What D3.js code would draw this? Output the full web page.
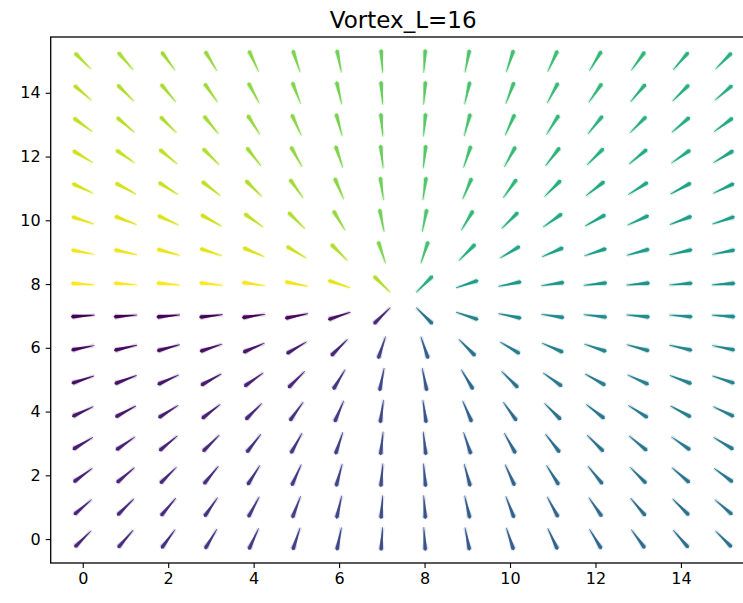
<!DOCTYPE html>
<html>
<head>
<meta charset="utf-8">
<script src="https://cdn.jsdelivr.net/npm/d3@7"></script>
<style>
  html, body { margin: 0; padding: 0; background: #fff; }
  svg { display: block; font-family: "DejaVu Sans", sans-serif; }
</style>
</head>
<body>
<div id="chart"></div>
<script>
// grid positions and vector components (u per column, v per row)
const gridX = [0, 1, 2, 3, 4, 5, 6, 7, 8, 9, 10, 11, 12, 13, 14, 15];
const gridY = [0, 1, 2, 3, 4, 5, 6, 7, 8, 9, 10, 11, 12, 13, 14, 15];
const colU = [-7.5, -6.5, -5.5, -4.5, -3.5, -2.5, -1.5, -0.5, 0.5, 1.5, 2.5, 3.5, 4.5, 5.5, 6.5, 7.5];
const rowV = [-7.5, -6.5, -5.5, -4.5, -3.5, -2.5, -1.5, -0.5, 0.5, 1.5, 2.5, 3.5, 4.5, 5.5, 6.5, 7.5];
const xTicks = [0, 2, 4, 6, 8, 10, 12, 14];
const yTicks = [0, 2, 4, 6, 8, 10, 12, 14];
const titleText = "Vortex_L=16";

const W = 743, H = 603;
const m = { left: 50.7, top: 37, w: 705, h: 526 };

const x = d3.scaleLinear().domain([-0.75, 15.75]).range([m.left, m.left + m.w]);
const y = d3.scaleLinear().domain([-0.75, 15.75]).range([m.top + m.h, m.top]);

// build the arrows
const arrows = [];
gridY.forEach((gy, j) => {
  gridX.forEach((gx, i) => {
    const u = colU[i], v = rowV[j];
    arrows.push({ gx, gy, u, v, ang: Math.atan2(v, u) });
  });
});
const color = d3.scaleSequential(d3.interpolateViridis).domain(d3.extent(arrows, d => d.ang));

const svg = d3.select('#chart').append('svg')
  .attr('width', W).attr('height', H)
  .attr('viewBox', [0, 0, W, H]);

svg.append('defs').append('clipPath').attr('id', 'clip')
  .append('rect').attr('x', m.left).attr('y', m.top).attr('width', m.w).attr('height', m.h);

// arrow glyph along +x, centered on the pivot (middle)
const L = 24;
const glyph = `M${-L/2},-0.3 L${L/2 - 2},-1.8 L${L/2},0 L${L/2 - 2},1.8 L${-L/2},0.3 Z`;
const jitter = [-9, -5, 5, 9]; // faint neighbouring samples

const plot = svg.append('g').attr('clip-path', 'url(#clip)');
const cell = plot.selectAll('g.arrow')
  .data(arrows)
  .join('g')
    .attr('class', 'arrow')
    .attr('transform', d => `translate(${x(d.gx)},${y(d.gy)})`);

cell.selectAll('path.halo')
  .data(d => jitter.map(o => ({ d, o })))
  .join('path')
    .attr('class', 'halo')
    .attr('d', glyph)
    .attr('fill', e => color(e.d.ang))
    .attr('opacity', 0.14)
    .attr('transform', e => `rotate(${-e.d.ang * 180 / Math.PI + e.o})`);

cell.append('path')
  .attr('d', glyph)
  .attr('fill', d => color(d.ang))
  .attr('transform', d => `rotate(${-d.ang * 180 / Math.PI})`);

// axes
const xAxis = svg.append('g')
  .attr('transform', `translate(0,${m.top + m.h})`)
  .call(d3.axisBottom(x).tickValues(xTicks).tickSize(5).tickPadding(5));
const yAxis = svg.append('g')
  .attr('transform', `translate(${m.left},0)`)
  .call(d3.axisLeft(y).tickValues(yTicks).tickSize(5).tickPadding(5));

[xAxis, yAxis].forEach(a => {
  a.select('.domain').remove();
  a.selectAll('line').attr('stroke', '#000').attr('stroke-width', 1.1);
  a.selectAll('text').attr('fill', '#000').attr('font-size', 16)
    .attr('font-family', '"DejaVu Sans", sans-serif');
});

// frame
svg.append('rect')
  .attr('x', m.left).attr('y', m.top).attr('width', m.w).attr('height', m.h)
  .attr('fill', 'none').attr('stroke', '#000').attr('stroke-width', 1.3);

svg.append('text')
  .attr('x', m.left + m.w / 2).attr('y', 28)
  .attr('text-anchor', 'middle')
  .attr('font-size', 23)
  .attr('fill', '#000')
  .text(titleText);
</script>
</body>
</html>
